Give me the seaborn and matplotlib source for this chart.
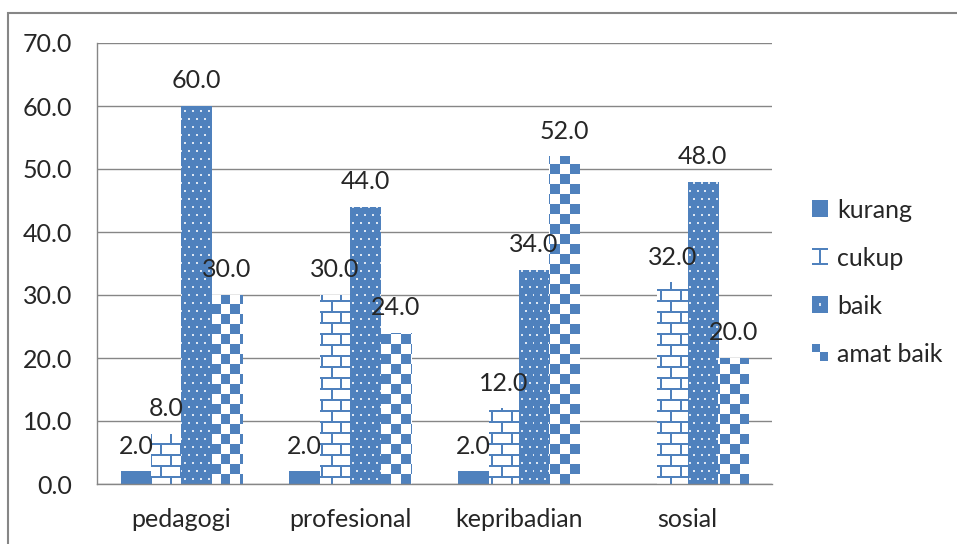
import numpy as np
import pandas as pd
import matplotlib
matplotlib.use('Agg')
import matplotlib.pyplot as plt
from matplotlib.patches import Patch, Rectangle
from matplotlib.legend_handler import HandlerBase
from matplotlib.image import BboxImage
from matplotlib.transforms import Bbox, TransformedBbox
import seaborn as sns

# data
kategori = ['pedagogi', 'profesional', 'kepribadian', 'sosial']
tingkat = ['kurang', 'cukup', 'baik', 'amat baik']
kurang = [2.0, 2.0, 2.0, 0.0]
cukup = [8.0, 30.0, 12.0, 32.0]
baik = [60.0, 44.0, 34.0, 48.0]
amat_baik = [30.0, 24.0, 52.0, 20.0]

nilai = [kurang, cukup, baik, amat_baik]
df = pd.DataFrame({
    'kategori': kategori * 4,
    'tingkat': [t for t in tingkat for _ in kategori],
    'nilai': [v for seri in nilai for v in seri],
})

biru = '#4F81BD'
abu = '#868686'
rgb_biru = np.array(matplotlib.colors.to_rgb(biru))
rgb_putih = np.array([1.0, 1.0, 1.0])
rgb_titik = np.array(matplotlib.colors.to_rgb('#dce6f2'))

sns.set_style('white')
plt.rcParams['font.family'] = ['Lato', 'DejaVu Sans']
plt.rcParams['font.size'] = 18

fig = plt.figure(figsize=(9.57, 5.44), dpi=100)
ax = fig.add_axes([97/957, 60/544, 675/957, 441/544])

sns.barplot(data=df, x='kategori', y='nilai', hue='tingkat', palette=[biru]*4,
            width=0.72, saturation=1, linewidth=0, legend=False, ax=ax)

ax.set_ylim(0, 70)
ax.set_xlim(-0.5, 3.5)
ax.set_yticks(np.arange(0, 71, 10))
ax.set_yticklabels([f'{v:.1f}' for v in np.arange(0, 71, 10)])
ax.set_xlabel('')
ax.set_ylabel('')
ax.yaxis.grid(True, color=abu, lw=1)
ax.set_axisbelow(True)
for s in ['top', 'right']:
    ax.spines[s].set_visible(False)
for s in ['left', 'bottom']:
    ax.spines[s].set_color(abu)
    ax.spines[s].set_linewidth(1)
# tick x di batas kategori
ax.set_xticks([-0.5, 0.5, 1.5, 2.5, 3.5], minor=True)
ax.tick_params(axis='x', which='major', length=0, pad=17, labelsize=18)
ax.tick_params(axis='x', which='minor', length=7, color=abu, width=1, direction='out')
ax.tick_params(axis='y', length=6, color=abu, width=1, direction='out', pad=12, labelsize=18)


# tekstur pola seperti excel (koordinat piksel)
def pola_bata(xs, ys):
    baris = ys // 11
    h = (ys % 11) < 2
    v = ((xs + (baris % 2) * 10) % 20) < 2
    return np.where((h | v)[..., None], rgb_biru, rgb_putih)


def pola_titik(xs, ys):
    geser = ((ys // 8) % 2) * 4
    t = (((xs + geser) % 8) < 2) & ((ys % 8) < 2)
    return np.where(t[..., None], rgb_titik, rgb_biru)


def pola_catur(xs, ys):
    c = ((xs // 10) + (ys // 10)) % 2 == 0
    return np.where(c[..., None], rgb_biru, rgb_putih)


pola = {1: pola_bata, 2: pola_titik, 3: pola_catur}
for i, wadah in enumerate(ax.containers):
    if i not in pola:
        continue
    for p in wadah.patches:
        if p.get_height() <= 0:
            continue
        bb = p.get_window_extent()
        x0, y0 = int(np.floor(bb.x0)), int(np.floor(bb.y0))
        w, h = int(np.ceil(bb.x1)) - x0, int(np.ceil(bb.y1)) - y0
        xs = np.arange(w)[None, :] + x0
        ys = np.arange(h)[:, None] + y0
        gambar = pola[i](xs, ys)
        im = ax.imshow(gambar, extent=(p.get_x(), p.get_x() + p.get_width(), 0, p.get_height()),
                       origin='lower', aspect='auto', interpolation='nearest', zorder=1.5)
        im.set_clip_path(p)

ax.set_ylim(0, 70)
ax.set_xlim(-0.5, 3.5)

# label nilai
for wadah in ax.containers:
    for p in wadah.patches:
        v = p.get_height()
        if v <= 0:
            continue
        ax.annotate(f'{v:.1f}', (p.get_x() + p.get_width() / 2, v), xytext=(0, 10),
                    textcoords='offset points', ha='center', va='bottom', fontsize=18, zorder=4)


# legenda dengan kotak bertekstur kecil
def kotak_polos(n):
    return np.tile(rgb_biru, (n, n, 1))


def kotak_bata(n):
    a = np.ones((n, n, 3))
    a[:2] = rgb_biru
    a[-2:] = rgb_biru
    a[:, n // 2 - 1:n // 2 + 1] = rgb_biru
    return a


def kotak_titik(n):
    a = np.tile(rgb_biru, (n, n, 1))
    a[n // 2 - 1:n // 2 + 1, n // 2 - 1:n // 2 + 1] = rgb_titik
    return a


def kotak_catur(n):
    a = np.ones((n, n, 3))
    a[:n // 2, :n // 2] = rgb_biru
    a[n // 2:, n // 2:] = rgb_biru
    return a


class HandlerPola(HandlerBase):
    def __init__(self, fungsi):
        super().__init__()
        self.fungsi = fungsi

    def create_artists(self, legend, orig_handle, xdescent, ydescent, width, height, fontsize, trans):
        bb = TransformedBbox(Bbox.from_bounds(-xdescent, -ydescent, width, height), trans)
        img = BboxImage(bb, interpolation='nearest')
        img.set_data(self.fungsi(14))
        return [img]


tangan = [Patch(facecolor=biru) for _ in tingkat]
peta = {h: HandlerPola(f) for h, f in zip(tangan, [kotak_polos, kotak_bata, kotak_titik, kotak_catur])}
fig.legend(tangan, tingkat, loc='center left', bbox_to_anchor=(789/957, 1 - 282/544),
           frameon=False, fontsize=18, handlelength=0.62, handleheight=0.62,
           handletextpad=0.4, labelspacing=1.0, handler_map=peta)

# bingkai luar
fig.add_artist(Rectangle((8/957, -0.1), 1.2, 1.1 - 13/544, transform=fig.transFigure,
                         fill=False, edgecolor=abu, lw=1.5))

fig.savefig('out.png', dpi=100)
